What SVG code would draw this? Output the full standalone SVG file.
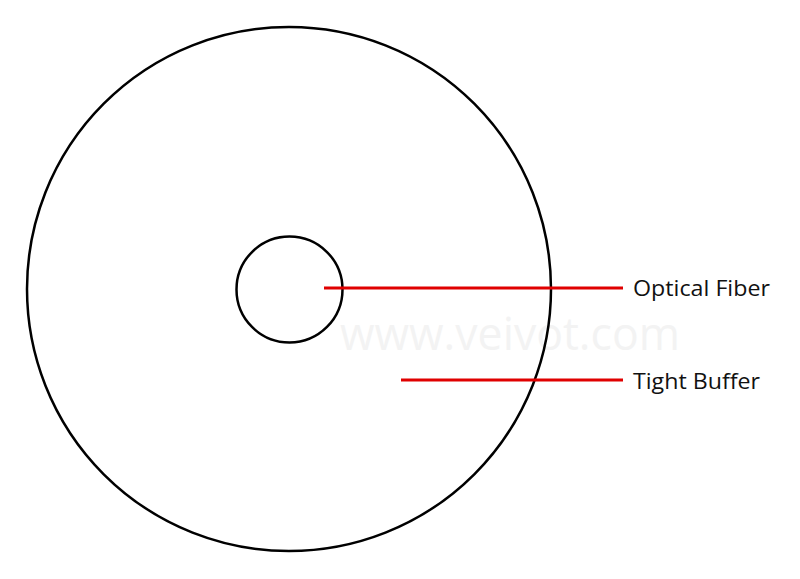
<svg xmlns="http://www.w3.org/2000/svg" width="800" height="579" viewBox="0 0 800 579">
<style>
.ring{fill:none;stroke:#000;stroke-width:2.5}
.lead{stroke:#e00000;stroke-width:3;fill:none}
.lbl{font-family:"Open Sans","Liberation Sans",sans-serif;font-size:22px;fill:#111}
.wm{font-family:"Open Sans","Liberation Sans",sans-serif;font-size:46px;fill:#f3f3f3}
</style>
<rect width="800" height="579" fill="#fff"/>
<text class="wm" x="340" y="350" textLength="340" lengthAdjust="spacingAndGlyphs">www.veivot.com</text>
<g id="tight-buffer-circle"><circle class="ring" cx="289" cy="289" r="262"/></g>
<g id="optical-fiber-circle"><circle class="ring" cx="289.5" cy="289.5" r="53"/></g>
<g id="connectors">
<line class="lead" x1="324" y1="288" x2="623" y2="288"/>
<line class="lead" x1="401" y1="380" x2="623" y2="380"/>
</g>
<g id="label-optical-fiber"><text class="lbl" x="633" y="296" textLength="137" lengthAdjust="spacingAndGlyphs">Optical Fiber</text></g>
<g id="label-tight-buffer"><text class="lbl" x="633" y="389" textLength="127" lengthAdjust="spacingAndGlyphs">Tight Buffer</text></g>
</svg>
